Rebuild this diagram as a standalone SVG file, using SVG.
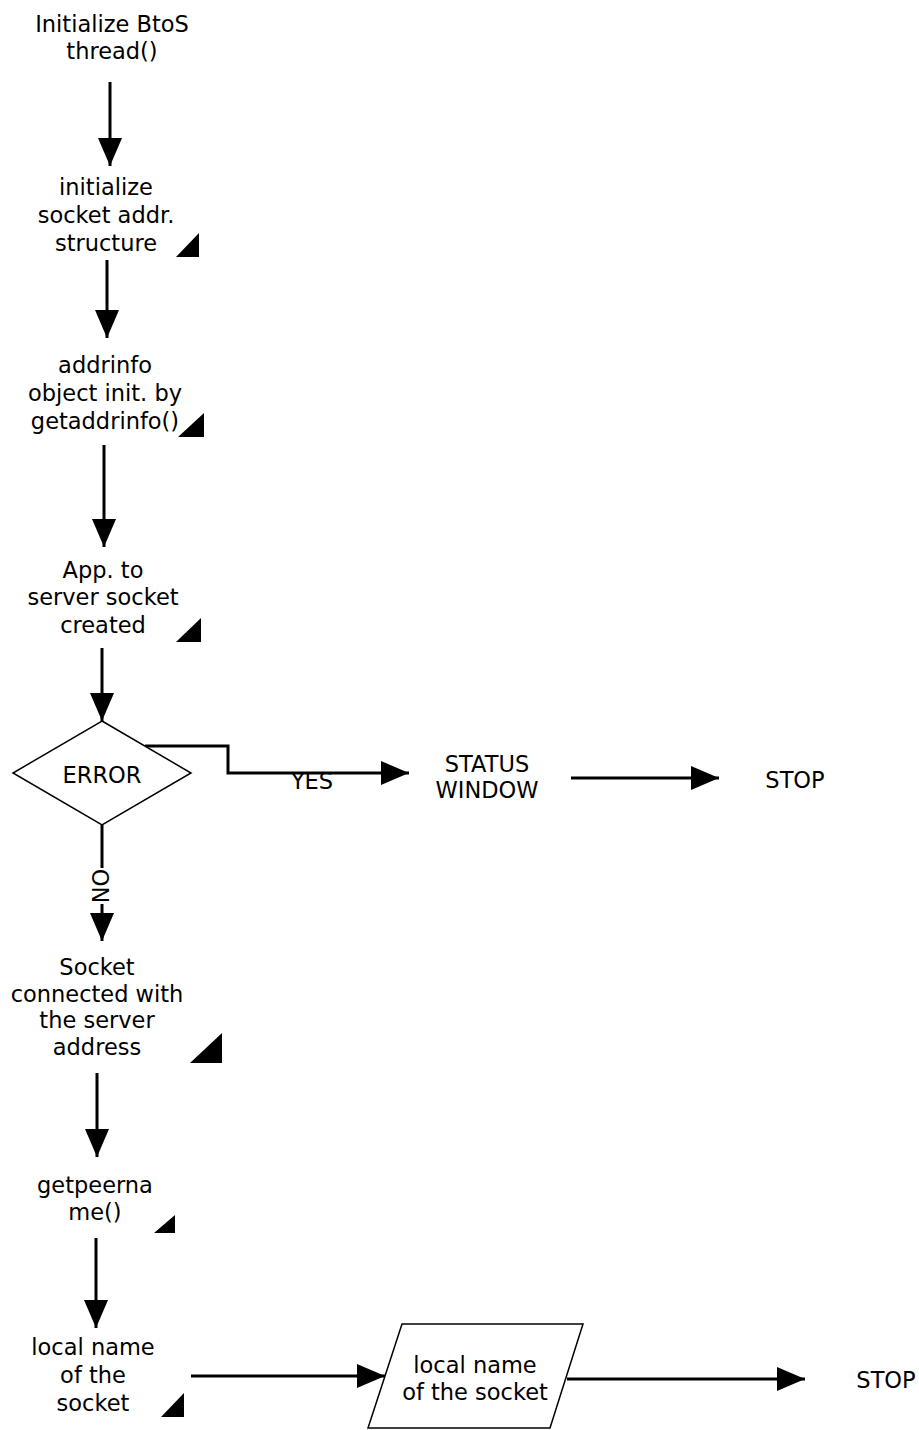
<svg xmlns="http://www.w3.org/2000/svg" width="919" height="1430" viewBox="0 0 919 1430">
<style>
text{font-family:"DejaVu Sans",Verdana,"Liberation Sans",sans-serif;font-size:22.5px;fill:#000;text-anchor:middle}
.ln{stroke:#000;stroke-width:3;fill:none}
.sh{fill:#fff;stroke:#000;stroke-width:1.5}
.tri{fill:#000}
</style>
<defs>
<marker id="ah" markerUnits="userSpaceOnUse" markerWidth="28" markerHeight="24" refX="28" refY="12" orient="auto">
<path d="M0,0 L28,12 L0,24 Z" fill="#000"/>
</marker>
</defs>
<rect width="919" height="1430" fill="#fff"/>
<g id="connectors">
<line class="ln" x1="110" y1="82" x2="110" y2="166" marker-end="url(#ah)"/>
<line class="ln" x1="107" y1="260" x2="107" y2="338" marker-end="url(#ah)"/>
<line class="ln" x1="104" y1="445" x2="104" y2="547" marker-end="url(#ah)"/>
<line class="ln" x1="102" y1="648" x2="102" y2="721" marker-end="url(#ah)"/>
<polyline class="ln" points="145,746 228,746 228,773 409,773" marker-end="url(#ah)"/>
<line class="ln" x1="571" y1="778" x2="719" y2="778" marker-end="url(#ah)"/>
<line class="ln" x1="102" y1="825" x2="102" y2="941" marker-end="url(#ah)"/>
<rect x="92" y="868" width="19" height="36" fill="#fff"/>
<text transform="translate(101,886) rotate(-90)" x="0" y="8">NO</text>
<text x="312" y="789">YES</text>
<line class="ln" x1="97" y1="1073" x2="97" y2="1157" marker-end="url(#ah)"/>
<line class="ln" x1="96" y1="1238" x2="96" y2="1328" marker-end="url(#ah)"/>
<line class="ln" x1="191" y1="1376" x2="385" y2="1376" marker-end="url(#ah)"/>
<line class="ln" x1="567" y1="1379" x2="805" y2="1379" marker-end="url(#ah)"/>
</g>
<g id="n1">
<text x="112" y="32">Initialize BtoS</text>
<text x="112" y="59">thread()</text>
</g>
<g id="n2">
<text x="106" y="195">initialize</text>
<text x="106" y="223">socket addr.</text>
<text x="106" y="251">structure</text>
<polygon class="tri" points="176,257 199,257 199,233"/>
</g>
<g id="n3">
<text x="105" y="373">addrinfo</text>
<text x="105" y="401">object init. by</text>
<text x="105" y="429">getaddrinfo()</text>
<polygon class="tri" points="178,437 204,437 204,413"/>
</g>
<g id="n4">
<text x="103" y="578">App. to</text>
<text x="103" y="605">server socket</text>
<text x="103" y="633">created</text>
<polygon class="tri" points="176,642 201,642 201,618"/>
</g>
<g id="error">
<polygon class="sh" points="102,721 191,773 102,825 13,773"/>
<text x="102" y="783">ERROR</text>
</g>
<g id="status">
<text x="487" y="772">STATUS</text>
<text x="487" y="798">WINDOW</text>
</g>
<g id="stop1">
<text x="795" y="788">STOP</text>
</g>
<g id="n5">
<text x="97" y="975">Socket</text>
<text x="97" y="1002">connected with</text>
<text x="97" y="1028">the server</text>
<text x="97" y="1055">address</text>
<polygon class="tri" points="190,1063 222,1063 222,1033"/>
</g>
<g id="n6">
<text x="95" y="1193">getpeerna</text>
<text x="95" y="1220">me()</text>
<polygon class="tri" points="154,1233 175,1233 175,1215"/>
</g>
<g id="n7">
<text x="93" y="1355">local name</text>
<text x="93" y="1383">of the</text>
<text x="93" y="1411">socket</text>
<polygon class="tri" points="161,1417 184,1417 184,1393"/>
</g>
<g id="io">
<polygon class="sh" points="402,1324 583,1324 550,1428 368,1428"/>
<text x="475" y="1373">local name</text>
<text x="475" y="1400">of the socket</text>
</g>
<g id="stop2">
<text x="886" y="1388">STOP</text>
</g>
</svg>
